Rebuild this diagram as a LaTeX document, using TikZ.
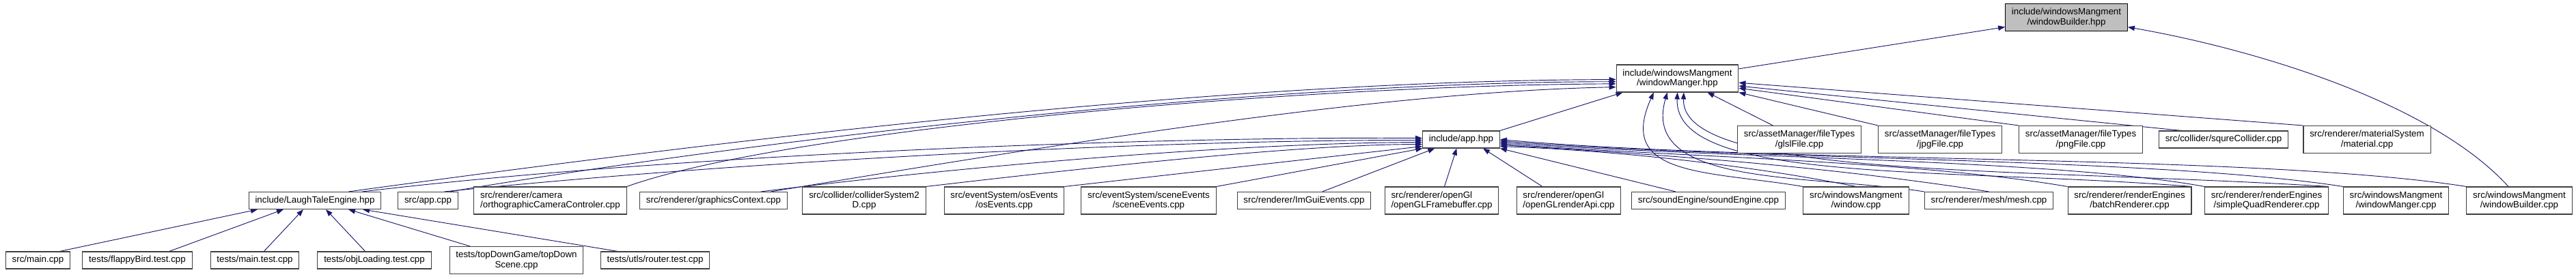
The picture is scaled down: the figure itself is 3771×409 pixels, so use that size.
\documentclass[tikz,border=0pt]{standalone}
\usepackage{fontspec}
\setmainfont{Liberation Sans}
\usepackage{xcolor}
\usetikzlibrary{arrows.meta}
\definecolor{edgeblue}{HTML}{191970}
\definecolor{curgray}{HTML}{BFBFBF}
\pgfdeclarelayer{edges}
\pgfsetlayers{edges,main}

\begin{document}
\begin{tikzpicture}[x=0.75pt,y=0.75pt,>={Triangle[length=7.5pt,width=5.5pt]},
  font=\fontsize{10}{10.75}\selectfont,
  file/.style={draw=black!75,line width=0.8pt,fill=white,align=center,inner xsep=7pt,inner ysep=1pt,minimum height=18.75pt},
  twoline/.style={minimum height=30pt},
  current/.style={file,fill=curgray,draw=black},
  dep/.style={->,draw=edgeblue,line width=0.7pt}]
  \useasboundingbox (0,0) rectangle (3771,-409);

  \node[current,twoline] (wbhpp) at (3025,-25.5) {include/windowsMangment\\/windowBuilder.hpp};
  \node[file,twoline] (wmhpp) at (2455.5,-115) {include/windowsMangment\\/windowManger.hpp};

  \node[file] (apphpp) at (2139,-204.5) {include/app.hpp};
  \node[file,twoline] (glsl) at (2634,-204.5) {src/assetManager/fileTypes\\/glslFile.cpp};
  \node[file,twoline] (jpg) at (2840,-204.5) {src/assetManager/fileTypes\\/jpgFile.cpp};
  \node[file,twoline] (png) at (3046,-204.5) {src/assetManager/fileTypes\\/pngFile.cpp};
  \node[file] (squre) at (3255,-204.5) {src/collider/squreCollider.cpp};
  \node[file,twoline] (material) at (3465,-204.5) {src/renderer/materialSystem\\/material.cpp};

  \node[file] (lte) at (461,-294) {include/LaughTaleEngine.hpp};
  \node[file] (appcpp) at (626.5,-294) {src/app.cpp};
  \node[file,twoline,align=left] (ortho) at (805.5,-294) {src/renderer/camera\\/orthographicCameraControler.cpp};
  \node[file] (gctx) at (1044.5,-294) {src/renderer/graphicsContext.cpp};
  \node[file,twoline] (coll) at (1265,-294) {src/collider/colliderSystem2\\D.cpp};
  \node[file,twoline] (os) at (1470,-294) {src/eventSystem/osEvents\\/osEvents.cpp};
  \node[file,twoline] (scene) at (1681.5,-294) {src/eventSystem/sceneEvents\\/sceneEvents.cpp};
  \node[file] (imgui) at (1909,-294) {src/renderer/ImGuiEvents.cpp};
  \node[file,twoline,align=left] (fb) at (2110.5,-294) {src/renderer/openGl\\/openGLFramebuffer.cpp};
  \node[file,twoline,align=left] (api) at (2296.5,-294) {src/renderer/openGl\\/openGLrenderApi.cpp};
  \node[file] (sound) at (2501,-294) {src/soundEngine/soundEngine.cpp};
  \node[file,twoline] (window) at (2717,-294) {src/windowsMangment\\/window.cpp};
  \node[file] (mesh) at (2911.5,-294) {src/renderer/mesh/mesh.cpp};
  \node[file,twoline] (batch) at (3117.5,-294) {src/renderer/renderEngines\\/batchRenderer.cpp};
  \node[file,twoline] (quad) at (3318,-294) {src/renderer/renderEngines\\/simpleQuadRenderer.cpp};
  \node[file,twoline] (wmcpp) at (3507.5,-294) {src/windowsMangment\\/windowManger.cpp};
  \node[file,twoline] (wbcpp) at (3688,-294) {src/windowsMangment\\/windowBuilder.cpp};

  \node[file] (main) at (55.5,-381.5) {src/main.cpp};
  \node[file] (flappy) at (201,-381.5) {tests/flappyBird.test.cpp};
  \node[file] (maintest) at (373,-381.5) {tests/main.test.cpp};
  \node[file] (objload) at (548,-381.5) {tests/objLoading.test.cpp};
  \node[file,twoline] (topdown) at (756,-381.5) {tests/topDownGame/topDown\\Scene.cpp};
  \node[file] (router) at (959,-381.5) {tests/utls/router.test.cpp};

  \begin{pgfonlayer}{edges}
  \draw[dep] (wmhpp) -- (wbhpp);
  \draw[dep] ([xshift=-12pt]wbcpp.north) .. controls (3560,-150) and (3300,-72) .. (wbhpp.-9);

  \draw[dep] ([xshift=37pt]lte.north) .. controls (1100,-200) and (1800,-118) .. (wmhpp.181);
  \draw[dep] ([xshift=24pt]appcpp.north) .. controls (1200,-190) and (1900,-120) .. (wmhpp.183);
  \draw[dep] (ortho.north east) .. controls (1150,-190) and (1900,-125) .. (wmhpp.185);
  \draw[dep] ([xshift=63pt]gctx.north) .. controls (1500,-220) and (2000,-135) .. (wmhpp.188);
  \draw[dep] (apphpp.north east) -- ([xshift=-60pt]wmhpp.south);
  \draw[dep] ([xshift=-29pt]glsl.north) -- ([xshift=33pt]wmhpp.south);
  \draw[dep] (jpg.north west) -- (wmhpp.south east);
  \draw[dep] (png.north west) -- (wmhpp.-9);
  \draw[dep] ([xshift=-46pt]squre.north) -- (wmhpp.-7);
  \draw[dep] (material.north west) -- (wmhpp.-4);
  \draw[dep] (window.north west) .. controls (2500,-250) and (2365,-260) .. ([xshift=-26pt]wmhpp.south);
  \draw[dep] (mesh.north west) .. controls (2650,-255) and (2400,-275) .. ([xshift=-11pt]wmhpp.south);
  \draw[dep] (batch.north east) .. controls (2850,-245) and (2450,-270) .. (wmhpp.south);
  \draw[dep] (quad.north east) .. controls (2950,-245) and (2460,-262) .. ([xshift=7pt]wmhpp.south);

  \draw[dep] ([xshift=52pt]lte.north) .. controls (1000,-225) and (1700,-200) .. (apphpp.178);
  \draw[dep] ([xshift=18pt]appcpp.north) .. controls (1100,-235) and (1700,-205) .. (apphpp.181);
  \draw[dep] ([xshift=52pt]gctx.north) .. controls (1400,-245) and (1800,-210) .. (apphpp.184);
  \draw[dep] (coll.north east) .. controls (1600,-245) and (1900,-212) .. (apphpp.187);
  \draw[dep] (os.north east) -- (apphpp.190);
  \draw[dep] (scene.north east) -- (apphpp.193);
  \draw[dep] ([xshift=20pt]imgui.north) -- ([xshift=-29pt]apphpp.south);
  \draw[dep] ([xshift=3pt]fb.north) -- ([xshift=-5pt]apphpp.south);
  \draw[dep] ([xshift=-29pt]api.north) -- ([xshift=24pt]apphpp.south);
  \draw[dep] ([xshift=-36pt]sound.north) -- (apphpp.south east);
  \draw[dep] (window.north) .. controls (2550,-240) and (2350,-220) .. (apphpp.-10);
  \draw[dep] (mesh.north) .. controls (2650,-240) and (2400,-225) .. (apphpp.-8);
  \draw[dep] (batch.north west) .. controls (2800,-235) and (2450,-230) .. (apphpp.-6);
  \draw[dep] (quad.north west) .. controls (3000,-232) and (2500,-232) .. (apphpp.-4);
  \draw[dep] (wmcpp.north west) .. controls (3150,-230) and (2550,-235) .. (apphpp.-2);
  \draw[dep] (wbcpp.north west) .. controls (3300,-225) and (2600,-240) .. (apphpp.0);

  \draw[dep] ([xshift=24pt]main.north) -- ([xshift=-63pt]lte.south);
  \draw[dep] ([xshift=35pt]flappy.north) -- ([xshift=-34.5pt]lte.south);
  \draw[dep] ([xshift=10pt]maintest.north) -- ([xshift=-12.75pt]lte.south);
  \draw[dep] ([xshift=-10pt]objload.north) -- ([xshift=12pt]lte.south);
  \draw[dep] ([xshift=-51pt]topdown.north) -- ([xshift=36.75pt]lte.south);
  \draw[dep] ([xshift=-41pt]router.north) -- ([xshift=52.5pt]lte.south);
  \end{pgfonlayer}
\end{tikzpicture}
\end{document}
